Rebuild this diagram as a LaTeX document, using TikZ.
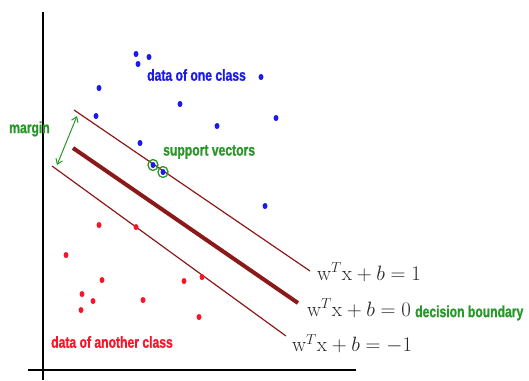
\documentclass[tikz,border=0pt]{standalone}
\usepackage{fontspec}
\usepackage{amsmath}
\newfontfamily\labfont[FakeStretch=0.76,FakeBold=1]{Liberation Sans}
\usetikzlibrary{arrows.meta}
\definecolor{mred}{RGB}{140,25,25}
\definecolor{mgreen}{RGB}{40,150,40}
\definecolor{mblue}{RGB}{25,25,240}
\definecolor{pred}{RGB}{250,20,40}
\tikzset{
  axis/.style={line width=2.6pt, black},
  thinline/.style={line width=1.2pt, mred},
  thickline/.style={line width=4pt, mred},
  bdot/.style={fill=mblue, draw=none, ellipse, minimum width=5pt, minimum height=6pt, inner sep=0pt},
  rdot/.style={fill=pred, draw=none, ellipse, minimum width=5pt, minimum height=6pt, inner sep=0pt},
  lab/.style={font=\labfont\bfseries\fontsize{16}{18}\selectfont, inner sep=0pt},
  eq/.style={font=\fontsize{21}{22}\selectfont, inner sep=0pt, text=black!85},
  svring/.style={draw=mgreen, line width=1.3pt, ellipse, minimum width=10pt, minimum height=11pt, inner sep=0pt},
}
\usetikzlibrary{shapes.geometric}
\begin{document}
\begin{tikzpicture}[x=1pt,y=-1pt]
\useasboundingbox (0,0) rectangle (529,380);
% axes
\coordinate (yt) at (43,12);
\coordinate (yb) at (43,380);
\coordinate (xl) at (28,370);
\coordinate (xr) at (356,370);
\draw[axis] (yt) -- (yb);
\draw[axis] (xl) -- (xr);
% lines
\coordinate (u1) at (74,110);
\coordinate (u2) at (310,271);
\coordinate (c1) at (73,148);
\coordinate (c2) at (298,303);
\coordinate (l1) at (52,166);
\coordinate (l2) at (286,336);
\draw[thinline] (u1) -- (u2);
\draw[thickline] (c1) -- (c2);
\draw[thinline] (l1) -- (l2);
% margin arrow
\coordinate (m1) at (77,116);
\coordinate (m2) at (57,165);
\draw[mgreen, line width=1pt, {Straight Barb[length=5pt,width=7pt]}-{Straight Barb[length=5pt,width=7pt]}] (m1) -- (m2);
% blue dots
\node[bdot] (b1) at (136,54) {};
\node[bdot] (b2) at (149,57) {};
\node[bdot] (b3) at (138,64) {};
\node[bdot] (b4) at (261,77) {};
\node[bdot] (b5) at (99,88) {};
\node[bdot] (b6) at (180,104) {};
\node[bdot] (b7) at (96,116) {};
\node[bdot] (b8) at (217,126) {};
\node[bdot] (b9) at (276,118) {};
\node[bdot] (b10) at (140,143) {};
\node[bdot] (b11) at (265,206) {};
\node[bdot] (s1) at (153,165) {};
\node[bdot] (s2) at (163,172) {};
\node[svring] (r1) at (s1) {};
\node[svring] (r2) at (s2) {};
% red dots
\node[rdot] (p1) at (99,225) {};
\node[rdot] (p2) at (136,227) {};
\node[rdot] (p3) at (66,255) {};
\node[rdot] (p4) at (102,280) {};
\node[rdot] (p5) at (184,281) {};
\node[rdot] (p6) at (202,277) {};
\node[rdot] (p7) at (82,294) {};
\node[rdot] (p8) at (93,301) {};
\node[rdot] (p9) at (143,300) {};
\node[rdot] (p10) at (81,310) {};
\node[rdot] (p11) at (199,317) {};
% labels
\node[lab, text=mblue, anchor=west] (t1) at (147,75) {data of one class};
\node[lab, text=mgreen, anchor=west] (t2) at (9,129) {margin};
\node[lab, text=mgreen, anchor=west] (t3) at (163,152) {support vectors};
\node[lab, text=pred, anchor=west] (t4) at (51,342) {data of another class};
\node[lab, text=mgreen, anchor=west] (t5) at (415,313) {decision boundary};
% equations
\node[eq, anchor=west] (e1) at (317,272) {$\mathrm{w}^T\mathrm{x}+b=1$};
\node[eq, anchor=west] (e2) at (307,308) {$\mathrm{w}^T\mathrm{x}+b=0$};
\node[eq, anchor=west] (e3) at (292,344) {$\mathrm{w}^T\mathrm{x}+b=-1$};
\end{tikzpicture}
\end{document}
